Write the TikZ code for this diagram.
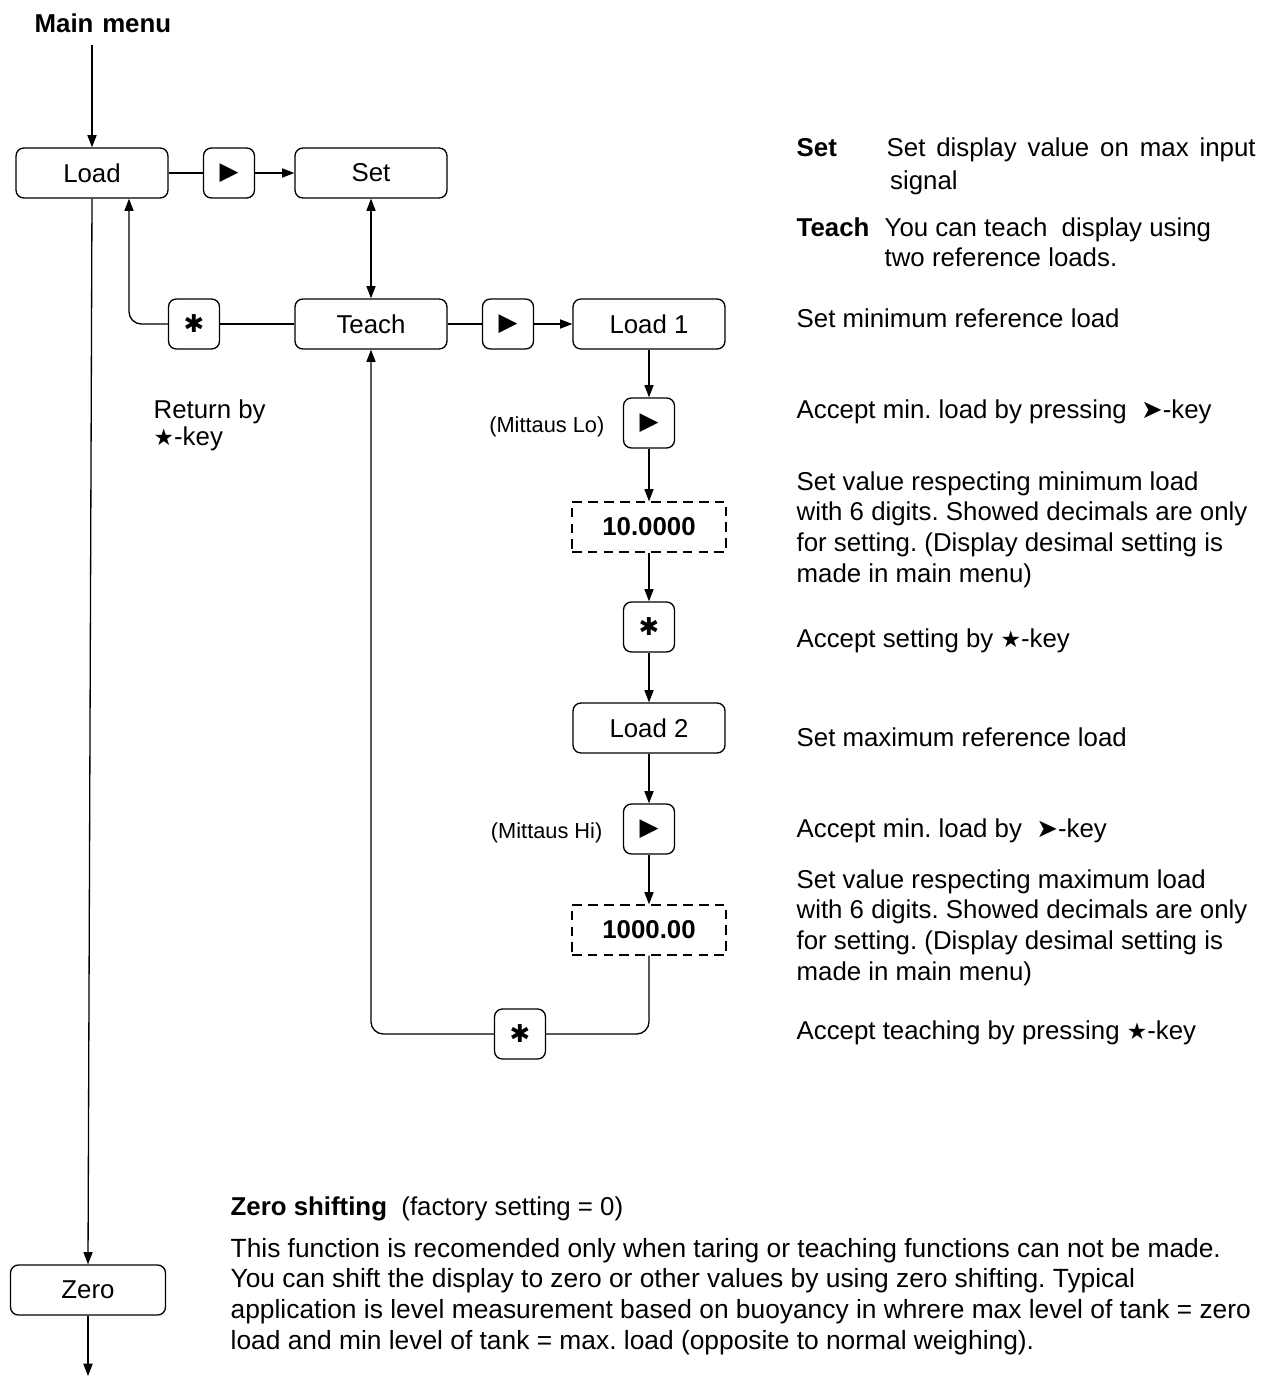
\documentclass[tikz,border=0pt]{standalone}
\usepackage{fontspec}
\setmainfont{Liberation Sans}
\newfontfamily\symfont{DejaVu Sans}
\usetikzlibrary{arrows.meta}
\frenchspacing
\newcommand{\playkey}{{\symfont\fontsize{14}{14}\selectfont ▶}}
\newcommand{\starkey}{{\symfont\fontsize{14}{14}\selectfont ✱}}
\newcommand{\startxt}{{\symfont\fontsize{13}{13}\selectfont ★}}
\newcommand{\arrtxt}{{\symfont ➤}}
\newcommand{\textlines}[1]{\begin{tabular}[t]{@{}l@{}}#1\end{tabular}}

\begin{document}
\begin{tikzpicture}[x=0.02cm,y=-0.02cm,line width=0.75pt,
  every node/.style={font=\fontsize{14.7}{17.6}\selectfont},
  box/.style={draw,rounded corners=4.5pt,minimum width=3.04cm,minimum height=1cm,inner sep=0pt},
  keybox/.style={draw,rounded corners=4.5pt,minimum width=1.02cm,minimum height=1cm,inner sep=0pt},
  valbox/.style={draw,dash pattern=on 5.5pt off 3.5pt,minimum width=3.08cm,minimum height=1cm,inner sep=0pt,font=\fontsize{14.7}{17}\selectfont\bfseries},
  txt/.style={anchor=base west,inner sep=0pt},
  small/.style={anchor=base east,inner sep=0pt,font=\fontsize{12.4}{14}\selectfont},
  tip/.style={-{Triangle[length=7pt,width=5.2pt]}},
  tips/.style={{Triangle[length=7pt,width=5.2pt]}-{Triangle[length=7pt,width=5.2pt]}}]
\useasboundingbox (0,0) rectangle (1271,1382);

% flow chart
\node[txt,font=\fontsize{14.7}{17}\selectfont\bfseries] (mainmenu) at (34,33) {Main\hspace{5pt}menu};
\coordinate (mmtop) at (92,45);
\node[box] (load) at (92,173) {Load};
\node[keybox] (k1) at (229,173) {\playkey};
\node[box] (set) at (371,173) {Set};
\node[keybox] (k2) at (194,324) {\starkey};
\node[box] (teach) at (371,324) {Teach};
\node[keybox] (k3) at (508,324) {\playkey};
\node[box] (load1) at (649,324) {Load 1};
\node[keybox] (k4) at (649,423) {\playkey};
\node[valbox] (val1) at (649,527) {10.0000};
\node[keybox] (k5) at (649,627) {\starkey};
\node[box] (load2) at (649,728) {Load 2};
\node[keybox] (k6) at (649,829) {\playkey};
\node[valbox] (val2) at (649,930) {1000.00};
\node[keybox] (k7) at (520,1034) {\starkey};
\node[box,minimum width=3.1cm] (zero) at (88,1290) {Zero};
\coordinate (zeroout) at (88,1376);

\draw[tip] (mmtop) -- (load);
\draw (load) -- (k1);
\draw[tip] (k1) -- (set);
\draw[tips] (set) -- (teach);
\draw (teach) -- (k2);
\draw[tip,rounded corners=7pt] (k2.west) -| ([xshift=0.74cm]load.south);
\draw (teach) -- (k3);
\draw[tip] (k3) -- (load1);
\draw[tip] (load1) -- (k4);
\draw[tip] (k4) -- (val1);
\draw[tip] (val1) -- (k5);
\draw[tip] (k5) -- (load2);
\draw[tip] (load2) -- (k6);
\draw[tip] (k6) -- (val2);
\draw[rounded corners=7pt] (val2.south) |- (k7.east);
\draw[tip,rounded corners=7pt] (k7.west) -| (teach.south);
\draw[tip] (load.south) -- (zero.north);
\draw[tip] (zero) -- (zeroout);

\node[small] (lo) at (605,432) {(Mittaus Lo)};
\node[small] (hi) at (603,838) {(Mittaus Hi)};
\node[txt,font=\fontsize{14.7}{15.9}\selectfont] (ret) at (153,418) {\textlines{Return by\\\startxt-key}};

% explanations
\node[txt,font=\fontsize{14.7}{17}\selectfont\bfseries] (setterm) at (796,157) {Set};
\node[txt,font=\fontsize{14.7}{18.5}\selectfont] (setdesc) at (886,157) {\textlines{\makebox[210pt][s]{Set display value on max input}\\\hspace{2pt}signal}};
\node[txt,font=\fontsize{14.7}{17}\selectfont\bfseries] (teachterm) at (796,236) {Teach};
\node[txt] (teachdesc) at (884,236) {\textlines{You can teach\ \ display using\\two reference loads.}};
\node[txt] (d1) at (796,327) {Set minimum reference load};
\node[txt] (d2) at (796,418) {Accept min. load by pressing\ \ \arrtxt-key};
\node[txt] (d3) at (796,490) {\textlines{Set value respecting minimum load\\with 6 digits. Showed decimals are only\\for setting. (Display desimal setting is\\made in main menu)}};
\node[txt] (d4) at (796,647) {Accept setting by \startxt-key};
\node[txt] (d5) at (796,746) {Set maximum reference load};
\node[txt] (d6) at (796,837) {Accept min. load by\ \ \arrtxt-key};
\node[txt] (d7) at (796,888) {\textlines{Set value respecting maximum load\\with 6 digits. Showed decimals are only\\for setting. (Display desimal setting is\\made in main menu)}};
\node[txt] (d8) at (796,1039) {Accept teaching by pressing \startxt-key};
\node[txt] (zs) at (230,1215) {\textbf{Zero shifting}\ \ (factory setting = 0)};
\node[txt,font=\fontsize{15}{17.6}\selectfont] (zp) at (230,1257) {\textlines{This function is recomended only when taring or teaching functions can not be made.\\You can shift the display to zero or other values by using zero shifting. Typical\\application is level measurement based on buoyancy in whrere max level of tank = zero\\load and min level of tank = max. load (opposite to normal weighing).}};
\end{tikzpicture}
\end{document}
